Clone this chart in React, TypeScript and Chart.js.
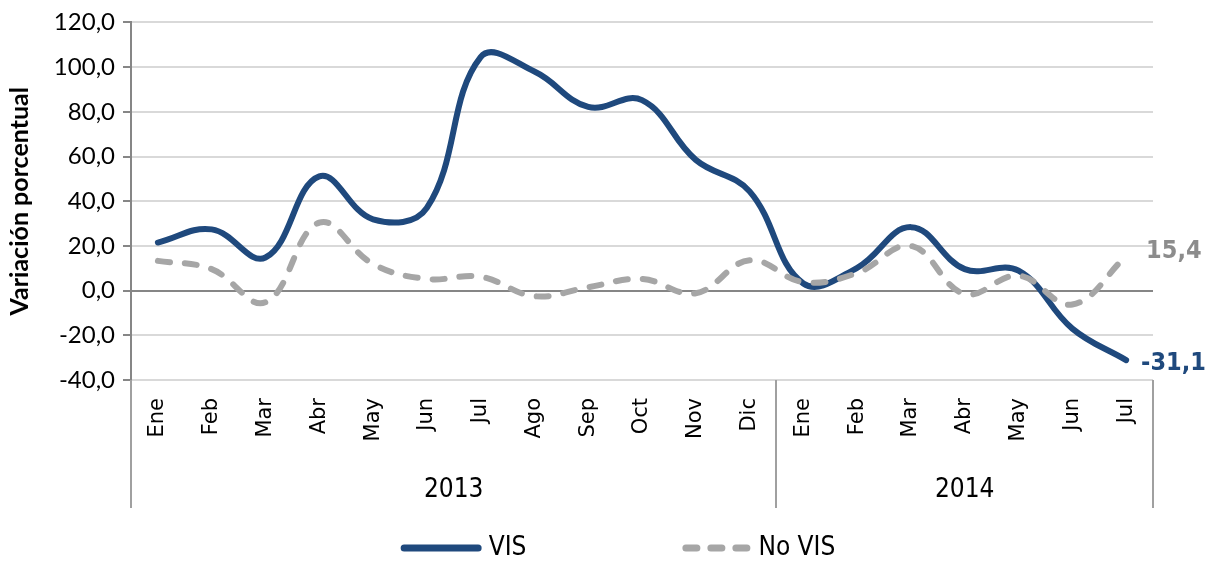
import React, { useEffect, useRef } from 'react';
import { Chart, registerables } from 'chart.js';

Chart.register(...registerables);

const months = ['Ene', 'Feb', 'Mar', 'Abr', 'May', 'Jun', 'Jul', 'Ago', 'Sep', 'Oct', 'Nov', 'Dic', 'Ene', 'Feb', 'Mar', 'Abr', 'May', 'Jun', 'Jul'];
const years = ['2013', '2014'];
const monthsPerYear = [12, 7];
const visValues = [21.5, 27.4, 14.8, 51.1, 31.9, 37.0, 104.5, 98.0, 82.2, 85.2, 58.5, 44.4, 3.2, 10.2, 28.4, 9.6, 8.9, -17.0, -31.1];
const noVisValues = [13.3, 9.6, -5.2, 30.4, 11.9, 5.2, 6.2, -2.5, 1.5, 5.2, -1.2, 13.6, 3.8, 7.9, 20.0, -1.5, 6.7, -6.2, 15.4];
const yMin = -40;
const yMax = 120;
const yStep = 20;

const VIS_COLOR = '#1F497D';
const NOVIS_COLOR = '#A6A6A6';
const NARROW = '"Liberation Sans Narrow", "DejaVu Sans Condensed", sans-serif';

const fmt = (v: number) => v.toFixed(1).replace('.', ',');

const groupsPlugin = {
  id: 'groups',
  afterDraw(chart: any) {
    const ctx = chart.ctx;
    const xs = chart.scales.x;
    const area = chart.chartArea;
    const half = (xs.getPixelForValue(1) - xs.getPixelForValue(0)) / 2;
    const bottom = area.bottom + 128;
    ctx.save();
    ctx.strokeStyle = '#A0A0A0';
    ctx.lineWidth = 2;
    let start = 0;
    const bounds: number[] = [xs.getPixelForValue(0) - half];
    years.forEach((y, i) => {
      const end = start + monthsPerYear[i] - 1;
      const x0 = xs.getPixelForValue(start) - half;
      const x1 = xs.getPixelForValue(end) + half;
      bounds.push(x1);
      ctx.fillStyle = '#000';
      ctx.font = `26px ${NARROW}`;
      ctx.textAlign = 'center';
      ctx.textBaseline = 'middle';
      ctx.fillText(y, (x0 + x1) / 2, 490);
      start = end + 1;
    });
    bounds.forEach((bx) => {
      ctx.beginPath();
      ctx.moveTo(Math.round(bx), area.bottom);
      ctx.lineTo(Math.round(bx), bottom);
      ctx.stroke();
    });

    // end-of-series value labels
    chart.data.datasets.forEach((ds: any, i: number) => {
      const meta = chart.getDatasetMeta(i);
      const last = meta.data[meta.data.length - 1];
      const v = ds.data[ds.data.length - 1];
      ctx.font = `bold 25px ${NARROW}`;
      ctx.fillStyle = ds.labelColor;
      ctx.textAlign = 'left';
      ctx.textBaseline = 'middle';
      ctx.fillText(fmt(v), last.x + (v >= 0 ? 20 : 15), last.y + (v >= 0 ? -5 : 3));
    });

    // legend
    const items = chart.data.datasets.map((ds: any) => ({
      label: ds.label,
      color: ds.borderColor,
      dash: ds.borderDash || [],
      lineLen: ds.borderDash ? 62 : 74,
    }));
    ctx.font = `26px ${NARROW}`;
    const capPad = 3.5;
    const textGap = 7;
    const itemGap = 156;
    const widths = items.map((it: any) => capPad * 2 + it.lineLen + textGap + ctx.measureText(it.label).width);
    const total = widths.reduce((a: number, b: number) => a + b, 0) + itemGap * (items.length - 1);
    let x = chart.width / 2 + 14 - total / 2;
    const ly = 548;
    items.forEach((it: any, i: number) => {
      ctx.beginPath();
      ctx.setLineDash(it.dash.length ? [11, 14] : []);
      ctx.lineCap = 'round';
      ctx.lineWidth = 7;
      ctx.strokeStyle = it.color;
      ctx.moveTo(x + capPad, ly);
      ctx.lineTo(x + capPad + it.lineLen, ly);
      ctx.stroke();
      ctx.setLineDash([]);
      ctx.fillStyle = '#000';
      ctx.textAlign = 'left';
      ctx.textBaseline = 'middle';
      ctx.fillText(it.label, x + capPad * 2 + it.lineLen + textGap, ly);
      x += widths[i] + itemGap;
    });
    ctx.restore();
  },
};

export default function App() {
  const ref = useRef<HTMLCanvasElement>(null);
  useEffect(() => {
    document.body.style.margin = '0';
    const chart = new Chart(ref.current as HTMLCanvasElement, {
      type: 'line',
      data: {
        labels: months,
        datasets: [
          {
            label: 'VIS',
            data: visValues,
            borderColor: VIS_COLOR,
            labelColor: VIS_COLOR,
            borderWidth: 6,
            borderCapStyle: 'round',
            borderJoinStyle: 'round',
            pointRadius: 0,
            pointHoverRadius: 0,
            tension: 0.4,
            fill: false,
            order: 1,
          } as any,
          {
            label: 'No VIS',
            data: noVisValues,
            borderColor: NOVIS_COLOR,
            labelColor: '#8C8C8C',
            borderWidth: 6,
            borderDash: [12, 15],
            borderCapStyle: 'round',
            borderJoinStyle: 'round',
            pointRadius: 0,
            pointHoverRadius: 0,
            tension: 0.4,
            fill: false,
            order: 0,
          } as any,
        ],
      },
      options: {
        animation: false,
        responsive: true,
        maintainAspectRatio: false,
        layout: { padding: { top: 20, right: 55, bottom: 54, left: 0 } },
        plugins: {
          legend: { display: false },
          tooltip: { enabled: false },
        },
        scales: {
          x: {
            type: 'category',
            offset: true,
            grid: { display: false, drawTicks: false },
            border: { display: false },
            ticks: {
              minRotation: 90,
              maxRotation: 90,
              autoSkip: false,
              padding: 18,
              color: '#000',
              font: { family: '"DejaVu Sans", sans-serif', size: 21 },
            },
            afterFit: (s: any) => {
              s.height = 128;
            },
          },
          y: {
            min: yMin,
            max: yMax,
            ticks: {
              stepSize: yStep,
              padding: 8,
              color: '#000',
              font: { family: 'Lato, sans-serif', size: 24 },
              callback: (v: any) => fmt(Number(v)),
            },
            grid: {
              color: (c: any) => (c.tick && c.tick.value === 0 ? '#868686' : '#D9D9D9'),
              lineWidth: 2,
              tickColor: '#868686',
              tickLength: 8,
              drawTicks: true,
            },
            border: { color: '#868686', width: 2 },
            title: {
              display: true,
              text: 'Variación porcentual',
              color: '#000',
              font: { family: 'Lato, sans-serif', size: 25, weight: 'bold' },
              padding: { top: 5, bottom: 0 },
            },
            afterFit: (s: any) => {
              s.width = 131;
            },
          },
        },
      },
      plugins: [groupsPlugin],
    });
    return () => chart.destroy();
  }, []);
  return (
    <div style={{ width: 1208, height: 562, position: 'relative' }}>
      <canvas ref={ref} />
    </div>
  );
}
